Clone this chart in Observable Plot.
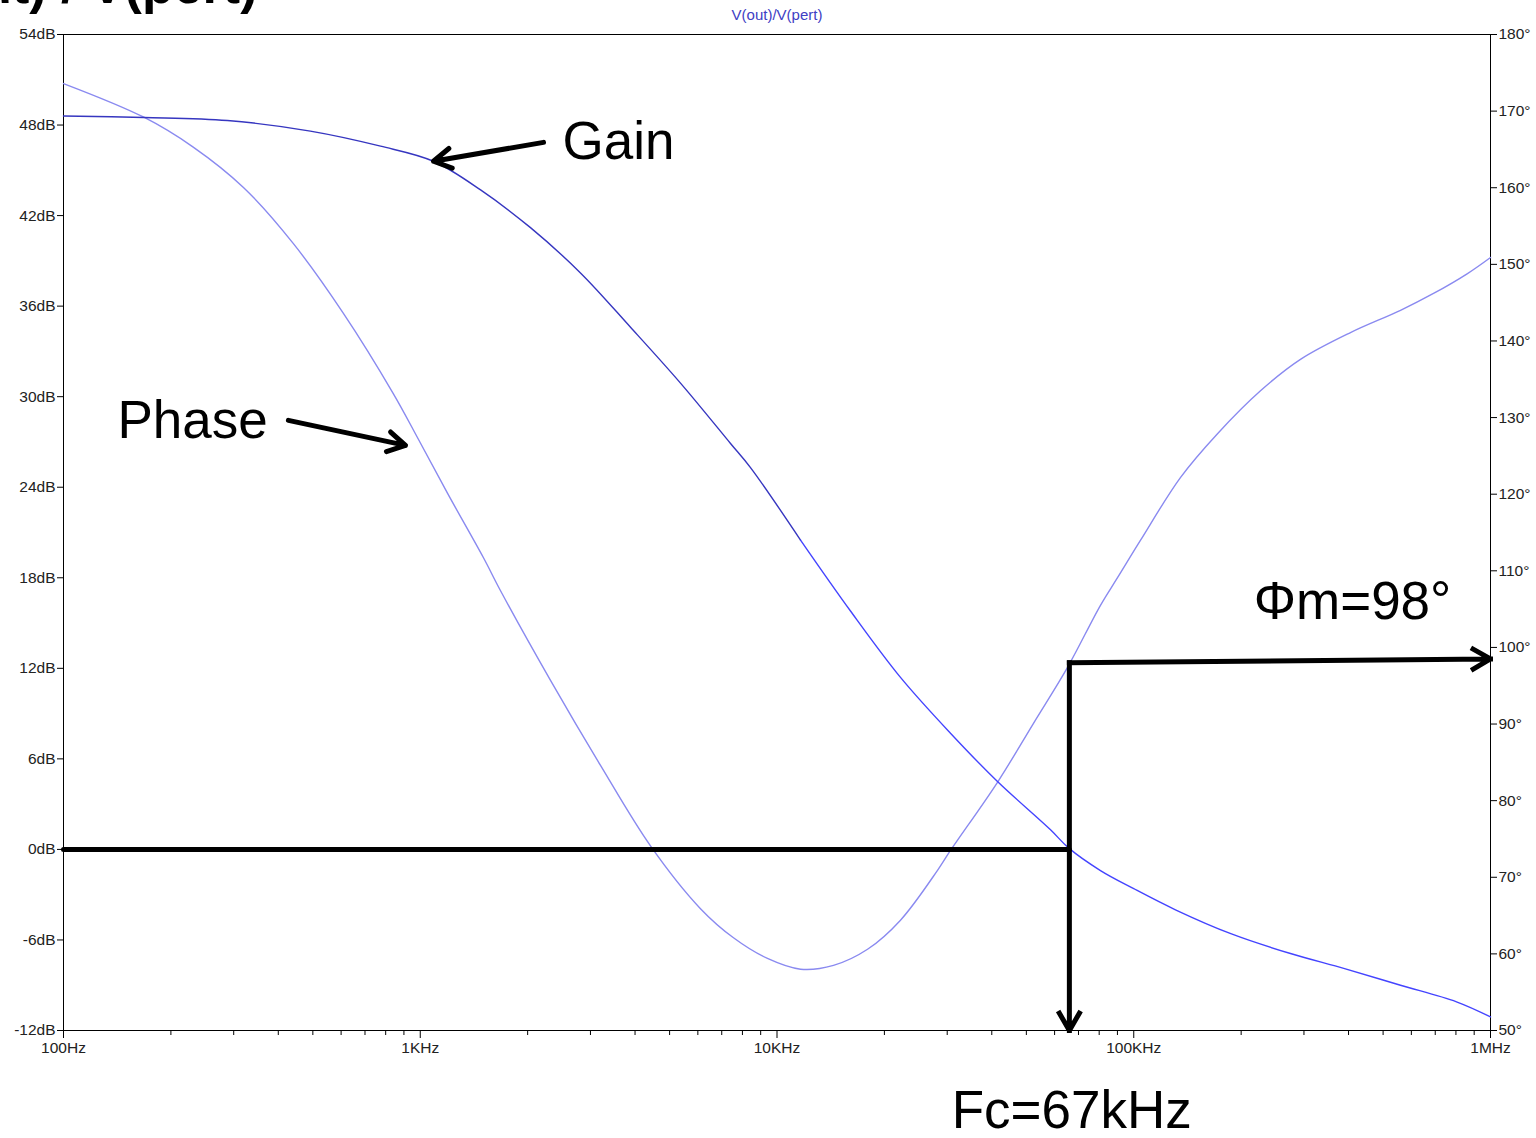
<!DOCTYPE html>
<html><head><meta charset="utf-8">
<script src="https://cdn.jsdelivr.net/npm/d3@7"></script>
<script src="https://cdn.jsdelivr.net/npm/@observablehq/plot@0.6"></script>
<style>
html,body{margin:0;padding:0;background:#fff;overflow:hidden;}
#chart{position:relative;width:1536px;height:1138px;}
</style></head><body><div id="chart"></div>
<script>
// ---- data ----
const gainFreq = [100, 168, 288, 492, 774, 1089, 1476, 2037, 2813, 3885, 5364, 7408, 8428, 11640, 16070, 22190, 30640, 41500, 58440, 65640, 80670, 100000, 130900, 187900, 275000, 389900, 559400, 802800, 1000000];
const gainDb   = [48.6, 48.5, 48.3, 47.6, 46.6, 45.6, 43.7, 41.2, 38.2, 34.6, 30.9, 26.9, 25.3, 20.5, 15.8, 11.4, 7.7, 4.5, 1.3, 0.1, -1.4, -2.6, -4.0, -5.6, -6.9, -7.9, -9.0, -10.1, -11.1];
const phaseFreq = [100, 168, 231, 320, 441, 609, 841, 982, 1193, 1504, 1679, 2318, 3201, 4419, 6103, 7551, 9403, 11640, 14400, 17940, 22190, 28180, 30640, 41500, 52360, 65220, 80670, 90050, 104500, 135300, 171700, 226600, 293300, 405100, 559400, 692200, 862000, 1000000];
const phaseDeg  = [173.6, 169.2, 165.3, 160.0, 152.7, 143.6, 133.1, 127.4, 120.1, 111.7, 107.4, 95.7, 84.6, 74.1, 65.9, 62.1, 59.4, 58.0, 58.5, 60.6, 64.4, 70.9, 73.5, 82.4, 90.1, 97.4, 105.5, 109.1, 114.0, 122.2, 127.9, 133.5, 137.6, 141.1, 144.0, 146.2, 148.8, 150.9];

const dbTicks = [-12, -6, 0, 6, 12, 18, 24, 30, 36, 42, 48, 54];
const degTicks = [50, 60, 70, 80, 90, 100, 110, 120, 130, 140, 150, 160, 170, 180];
const freqTicks = [100, 1000, 10000, 100000, 1000000];
const freqTickLabels = ["100Hz", "1KHz", "10KHz", "100KHz", "1MHz"];
const minorMultipliers = [2, 3, 4, 5, 6, 7, 8, 9];

const chartTitle = "V(out)/V(pert)";
const slideTitle = "V(out) / V(pert)";
const fcPos = 66000;       // crossover frequency (drawn)
const pm = 98;             // phase margin
const gainLabel  = {text: "Gain",  f: 3595,   db: 46.9};
const phaseLabel = {text: "Phase", f: 230,    db: 28.4};
const pmLabel    = {text: "Φm=98°", f: 410400, deg: 105.9};
const fcLabel    = {text: "Fc=67kHz", f: 67000};
const gainArrow  = {f1: 2216, db1: 46.85, f2: 1089, db2: 45.6};
const phaseArrow = {f1: 427,  db1: 28.43, f2: 909,  db2: 26.77};

// ---- helpers ----
const degDomain = [50, 180], dbDomain = [-12, 54];
const toDb = d => dbDomain[0] + (d - degDomain[0]) * (dbDomain[1] - dbDomain[0]) / (degDomain[1] - degDomain[0]);
const fromDb = v => degDomain[0] + (v - dbDomain[0]) * (degDomain[1] - degDomain[0]) / (dbDomain[1] - dbDomain[0]);

const gain = gainFreq.map((f, i) => ({f, v: gainDb[i]}));
const gainA = gain.filter(d => d.f <= 11640);
const gainB = gain.filter(d => d.f >= 11640);
const phase = phaseFreq.map((f, i) => ({f, v: toDb(phaseDeg[i])}));
const minorTicks = freqTicks.slice(0, -1).flatMap(d => minorMultipliers.map(m => m * d));

const font = "'Liberation Sans', Arial, Helvetica, sans-serif";

const plot = Plot.plot({
  width: 1536, height: 1138,
  marginLeft: 63, marginRight: 46, marginTop: 34, marginBottom: 108,
  style: {fontFamily: font, background: "white"},
  x: {type: "log", domain: [100, 1e6]},
  y: {domain: dbDomain},
  marks: [
    // frame lines
    Plot.ruleY([54], {stroke: "#000", strokeWidth: 1}),
    Plot.ruleY([-12], {stroke: "#000", strokeWidth: 1}),
    Plot.ruleX([100], {stroke: "#000", strokeWidth: 1}),
    Plot.ruleX([1e6], {stroke: "#000", strokeWidth: 1}),
    // axes
    Plot.axisY({ticks: dbTicks, anchor: "left", tickSize: 6, tickPadding: 2, tickFormat: d => `${d}dB`, fontSize: 15.5, label: null, stroke: "#000", fill: "#222"}),
    Plot.axisY({ticks: degTicks.map(toDb), anchor: "right", tickSize: 6, tickPadding: 2, tickFormat: d => `${Math.round(fromDb(d))}°`, fontSize: 15.5, label: null, stroke: "#000", fill: "#222"}),
    Plot.axisX({ticks: freqTicks, anchor: "bottom", tickSize: 8, tickPadding: 3, tickFormat: d => freqTickLabels[freqTicks.indexOf(d)], fontSize: 15.5, label: null, stroke: "#000", fill: "#222"}),
    Plot.axisX({ticks: minorTicks, anchor: "bottom", tickSize: 5, tickFormat: () => "", label: null, stroke: "#000"}),
    // curves
    Plot.line(phase, {x: "f", y: "v", stroke: "#8a8af0", strokeWidth: 1.4, curve: "catmull-rom"}),
    Plot.line(gainA, {x: "f", y: "v", stroke: "#3636c0", strokeWidth: 1.4, curve: "catmull-rom"}),
    Plot.line(gainB, {x: "f", y: "v", stroke: "#4444ff", strokeWidth: 1.4, curve: "catmull-rom"}),
    // annotation lines
    Plot.line([{f: 100, v: 0}, {f: fcPos, v: 0}], {x: "f", y: "v", stroke: "#000", strokeWidth: 5}),
    Plot.arrow([{f1: fcPos, v1: toDb(pm), f2: fcPos, v2: -12}], {x1: "f1", y1: "v1", x2: "f2", y2: "v2", stroke: "#000", strokeWidth: 5, headLength: 6, strokeLinecap: "square"}),
    Plot.arrow([{f1: fcPos, v1: toDb(pm), f2: 1e6, v2: toDb(pm + 0.5)}], {x1: "f1", y1: "v1", x2: "f2", y2: "v2", stroke: "#000", strokeWidth: 5, headLength: 6, strokeLinecap: "square"}),
    Plot.arrow([gainArrow], {x1: "f1", y1: "db1", x2: "f2", y2: "db2", stroke: "#000", strokeWidth: 5, headLength: 6}),
    Plot.arrow([phaseArrow], {x1: "f1", y1: "db1", x2: "f2", y2: "db2", stroke: "#000", strokeWidth: 5, headLength: 6}),
    // annotation texts
    Plot.text([gainLabel], {x: "f", y: "db", text: "text", fontSize: 53, fill: "#000", textAnchor: "middle", lineAnchor: "middle"}),
    Plot.text([phaseLabel], {x: "f", y: "db", text: "text", fontSize: 53, fill: "#000", textAnchor: "middle", lineAnchor: "middle"}),
    Plot.text([pmLabel], {x: "f", y: d => toDb(d.deg), text: "text", fontSize: 53, fill: "#000", textAnchor: "middle", lineAnchor: "middle"}),
    Plot.text([fcLabel], {x: "f", text: "text", frameAnchor: "bottom", dy: 81, fontSize: 53, fill: "#000", textAnchor: "middle", lineAnchor: "middle"}),
    // titles
    Plot.text([chartTitle], {text: d => d, frameAnchor: "top", dy: -19, fontSize: 15, fill: "#4040c4", lineAnchor: "middle"}),
    Plot.text([slideTitle], {text: d => d, frameAnchor: "top-left", dx: 194, dy: -32, fontSize: 52, fontWeight: "bold", fill: "#000", textAnchor: "end", lineAnchor: "bottom"})
  ]
});
document.getElementById("chart").appendChild(plot);
</script></body></html>
